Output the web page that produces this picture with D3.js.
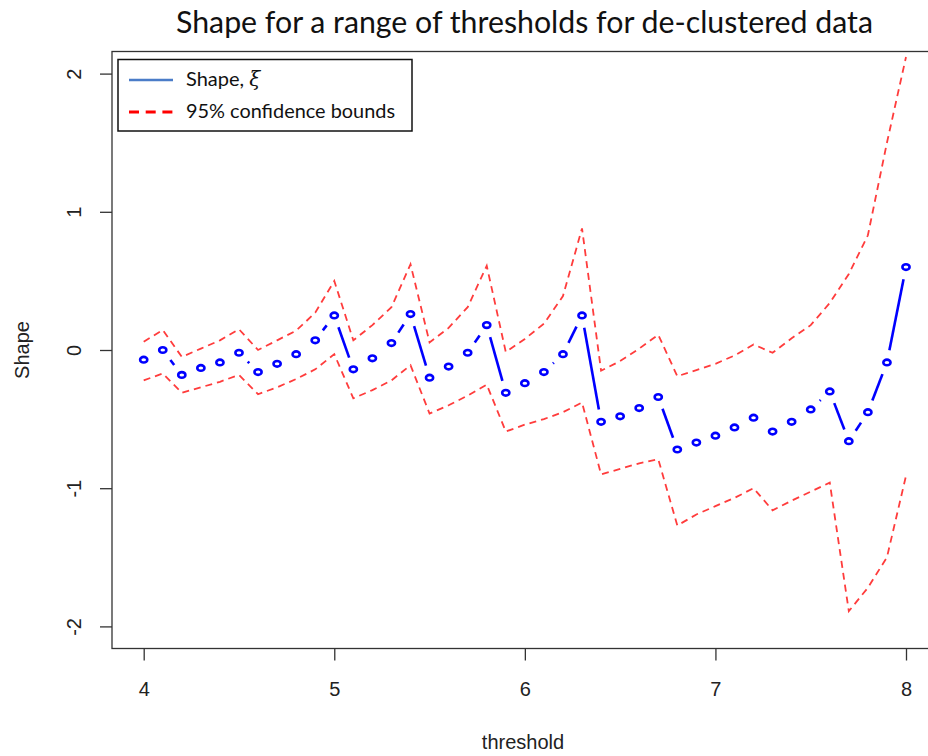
<!DOCTYPE html>
<html>
<head>
<meta charset="utf-8">
<script src="https://cdn.jsdelivr.net/npm/d3@7.9.0/dist/d3.min.js"></script>
<style>
  html, body { margin: 0; padding: 0; background: #fff; }
  svg { display: block; }
</style>
</head>
<body>
<svg id="chart" width="928" height="756"></svg>
<script>
// thresholds used for the fits
const thresholds = [
  4.0, 4.1, 4.2, 4.3, 4.4, 4.5, 4.6, 4.7, 4.8, 4.9,
  5.0, 5.1, 5.2, 5.3, 5.4, 5.5, 5.6, 5.7, 5.8, 5.9,
  6.0, 6.1, 6.2, 6.3, 6.4, 6.5, 6.6, 6.7, 6.8, 6.9,
  7.0, 7.1, 7.2, 7.3, 7.4, 7.5, 7.6, 7.7, 7.8, 7.9,
  8.0
];

// estimated shape parameter (xi)
const shape = [
  -0.07, 0.00, -0.18, -0.13, -0.09, -0.02, -0.16, -0.10, -0.03, 0.07,
  0.25, -0.14, -0.06, 0.05, 0.26, -0.20, -0.12, -0.02, 0.18, -0.31,
  -0.24, -0.16, -0.03, 0.25, -0.52, -0.48, -0.42, -0.34, -0.72, -0.67,
  -0.62, -0.56, -0.49, -0.59, -0.52, -0.43, -0.30, -0.66, -0.45, -0.09,
  0.60
];

// 95% confidence bounds
const upper = [
  0.06, 0.145, -0.05, 0.01, 0.07, 0.15, 0.00, 0.07, 0.14, 0.27,
  0.50, 0.07, 0.18, 0.31, 0.62, 0.055, 0.16, 0.31, 0.61, -0.015,
  0.08, 0.19, 0.39, 0.88, -0.15, -0.08, 0.01, 0.11, -0.19, -0.145,
  -0.10, -0.04, 0.04, -0.02, 0.085, 0.18, 0.34, 0.55, 0.83, 1.50,
  2.12
];

const lower = [
  -0.22, -0.17, -0.31, -0.27, -0.23, -0.18, -0.32, -0.27, -0.21, -0.14,
  -0.03, -0.35, -0.29, -0.22, -0.11, -0.46, -0.40, -0.33, -0.25, -0.59,
  -0.54, -0.50, -0.45, -0.38, -0.90, -0.86, -0.82, -0.79, -1.27, -1.19,
  -1.13, -1.07, -1.00, -1.16, -1.09, -1.025, -0.96, -1.89, -1.72, -1.50,
  -0.91
];

const xTicks = [4, 5, 6, 7, 8];
const yTicks = [-2, -1, 0, 1, 2];

const titleText = 'Shape for a range of thresholds for de-clustered data';

const svg = d3.select('#chart');

// plot region (R style, 4% padding around data range)
const box = { left: 112, top: 51.5, right: 937, bottom: 648.5 };

const x = d3.scaleLinear().domain([4, 8]).range([143.7, 906]);
const y = d3.scaleLinear().domain([-2, 2]).range([626.4, 73.6]);

const axisFont = '"Liberation Sans", Arial, sans-serif';
const officeFont = 'Lato, "Open Sans", sans-serif';

// title
svg.append('text')
  .attr('x', 176)
  .attr('y', 33)
  .attr('textLength', 697)
  .attr('lengthAdjust', 'spacingAndGlyphs')
  .style('font-family', officeFont)
  .style('font-size', '30px')
  .style('fill', '#111')
  .text(titleText);

// box
svg.append('rect')
  .attr('x', box.left)
  .attr('y', box.top)
  .attr('width', box.right - box.left)
  .attr('height', box.bottom - box.top)
  .attr('fill', 'none')
  .attr('stroke', '#333')
  .attr('stroke-width', 1.3);

// axes (plain hyphen for negatives, like R)
const fmt = d => String(d);

const xAxis = svg.append('g')
  .attr('transform', `translate(0,${box.bottom})`)
  .call(d3.axisBottom(x).tickValues(xTicks).tickSize(12).tickSizeOuter(0).tickFormat(fmt));

xAxis.select('.domain').remove();
xAxis.selectAll('line').attr('stroke', '#333').attr('stroke-width', 1.3);
xAxis.selectAll('text')
  .attr('y', 47.5)
  .attr('dy', null)
  .style('font-family', axisFont)
  .style('font-size', '20px')
  .style('fill', '#222');

const yAxis = svg.append('g')
  .attr('transform', `translate(${box.left},0)`)
  .call(d3.axisLeft(y).tickValues(yTicks).tickSize(12).tickSizeOuter(0).tickFormat(fmt));

yAxis.select('.domain').remove();
yAxis.selectAll('line').attr('stroke', '#333').attr('stroke-width', 1.3);
yAxis.selectAll('text')
  .attr('x', null)
  .attr('dy', null)
  .attr('text-anchor', 'middle')
  .attr('transform', 'translate(-31,0) rotate(-90)')
  .style('font-family', axisFont)
  .style('font-size', '20px')
  .style('fill', '#222');

// axis titles
svg.append('text')
  .attr('x', 523)
  .attr('y', 749)
  .attr('text-anchor', 'middle')
  .style('font-family', axisFont)
  .style('font-size', '20px')
  .style('fill', '#222')
  .text('threshold');

svg.append('text')
  .attr('transform', 'translate(29,350) rotate(-90)')
  .attr('text-anchor', 'middle')
  .style('font-family', axisFont)
  .style('font-size', '20px')
  .style('fill', '#222')
  .text('Shape');

const data = thresholds.map((t, i) => ({
  t,
  shape: shape[i],
  upper: upper[i],
  lower: lower[i],
}));

// confidence bounds
const plot = svg.append('g');

['upper', 'lower'].forEach(key => {
  plot.append('path')
    .datum(data)
    .attr('fill', 'none')
    .attr('stroke', '#ff3c3c')
    .attr('stroke-width', 1.8)
    .attr('stroke-dasharray', '7,5')
    .attr('d', d3.line().x(d => x(d.t)).y(d => y(d[key])));
});

// type = "b": segments with gaps around each point
const gap = 12.5;
const segments = d3.pairs(data).map(([a, b]) => {
  const x1 = x(a.t), y1 = y(a.shape);
  const x2 = x(b.t), y2 = y(b.shape);
  const len = Math.hypot(x2 - x1, y2 - y1);
  const ux = (x2 - x1) / len, uy = (y2 - y1) / len;
  return {
    len,
    x1: x1 + ux * gap, y1: y1 + uy * gap,
    x2: x2 - ux * gap, y2: y2 - uy * gap,
  };
}).filter(s => s.len > 2 * gap);

plot.selectAll('line.seg')
  .data(segments)
  .join('line')
  .attr('class', 'seg')
  .attr('x1', d => d.x1)
  .attr('y1', d => d.y1)
  .attr('x2', d => d.x2)
  .attr('y2', d => d.y2)
  .attr('stroke', '#0000ff')
  .attr('stroke-width', 2.6);

plot.selectAll('ellipse')
  .data(data)
  .join('ellipse')
  .attr('cx', d => x(d.t))
  .attr('cy', d => y(d.shape))
  .attr('rx', 3.6)
  .attr('ry', 2.8)
  .attr('fill', 'none')
  .attr('stroke', '#0000ff')
  .attr('stroke-width', 2.6);

// legend
const legend = svg.append('g');

legend.append('rect')
  .attr('x', 118)
  .attr('y', 59.5)
  .attr('width', 294)
  .attr('height', 71.5)
  .attr('fill', '#fff')
  .attr('stroke', '#111')
  .attr('stroke-width', 1.5);

legend.append('line')
  .attr('x1', 129).attr('x2', 173)
  .attr('y1', 80).attr('y2', 80)
  .attr('stroke', '#4a7cc8')
  .attr('stroke-width', 2.5);

legend.append('line')
  .attr('x1', 129).attr('x2', 173)
  .attr('y1', 112).attr('y2', 112)
  .attr('stroke', '#ff0000')
  .attr('stroke-width', 3)
  .attr('stroke-dasharray', '10,6.7');

const label1 = legend.append('text')
  .attr('x', 186)
  .attr('y', 86)
  .style('font-family', officeFont)
  .style('font-size', '20px')
  .style('fill', '#111');
label1.append('tspan').text('Shape, ');
label1.append('tspan')
  .style('font-family', '"DejaVu Serif", serif')
  .style('font-style', 'italic')
  .text('\u03BE');

legend.append('text')
  .attr('x', 186)
  .attr('y', 118.3)
  .attr('textLength', 209)
  .attr('lengthAdjust', 'spacingAndGlyphs')
  .style('font-family', officeFont)
  .style('font-size', '20px')
  .style('fill', '#111')
  .text('95% confidence bounds');
</script>
</body>
</html>
